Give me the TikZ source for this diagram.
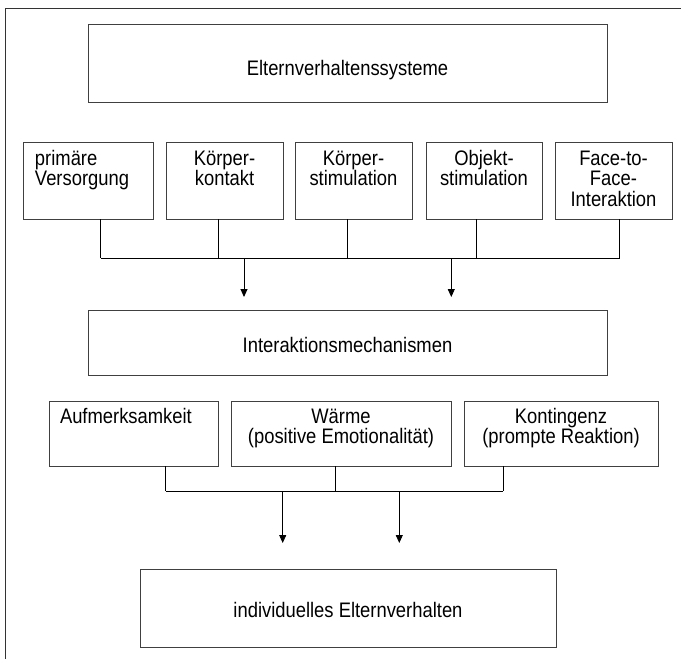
\documentclass[tikz,border=0pt]{standalone}
\usepackage{fontspec}
\setmainfont{Liberation Sans}[FakeStretch=0.876]
\usetikzlibrary{arrows.meta}
\newcommand{\bxt}[5]{\parbox[t][#2][t]{#1}{\fontsize{21pt}{20.7pt}\selectfont\lineskiplimit=-10pt #4\leavevmode\rule{0pt}{#3}#5}}
\tikzset{
  x=1pt, y=-1pt,
  bx/.style={draw=black!75, line width=0.9pt, inner sep=0pt, outer sep=0pt, anchor=north west},
  ln/.style={line width=0.9pt, black},
  arr/.style={ln, -{Triangle[width=7pt,length=8pt]}},
  frm/.style={line width=1.2pt, black!80}
}
\begin{document}
\begin{tikzpicture}
\useasboundingbox (0,0) rectangle (681,659);
\draw[frm] (5.5,659) -- (5.5,8.5) -- (681,8.5);

\node[bx] (A) at (88,24) {\bxt{519pt}{78pt}{51pt}{\centering}{Elternverhaltenssysteme}};

\node[bx] (B1) at (23,142) {\bxt{130pt}{77pt}{23pt}{\raggedright\leftskip=12pt\relax}{primäre\\Versorgung}};
\node[bx] (B2) at (166,142) {\bxt{117pt}{77pt}{23pt}{\centering}{Körper-\\kontakt}};
\node[bx] (B3) at (295,142) {\bxt{117pt}{77pt}{23pt}{\centering}{Körper-\\stimulation}};
\node[bx] (B4) at (426,142) {\bxt{116pt}{77pt}{23pt}{\centering}{Objekt-\\stimulation}};
\node[bx] (B5) at (555,142) {\bxt{117pt}{77pt}{23pt}{\centering}{Face-to-\\Face-\\Interaktion}};

\node[bx] (C) at (88,310) {\bxt{519pt}{65pt}{42pt}{\centering}{Interaktionsmechanismen}};

\node[bx] (D1) at (49,401) {\bxt{169pt}{65pt}{22pt}{\raggedright\leftskip=11pt\relax}{Aufmerksamkeit}};
\node[bx] (D2) at (231,401) {\bxt{220pt}{65pt}{22pt}{\centering}{Wärme\\(positive Emotionalität)}};
\node[bx] (D3) at (464,401) {\bxt{194pt}{65pt}{22pt}{\centering}{Kontingenz\\(prompte Reaktion)}};

\node[bx] (E) at (140,569) {\bxt{416pt}{78pt}{48pt}{\centering}{individuelles Elternverhalten}};

% first bus
\coordinate (j1) at (100.7,258);
\coordinate (j2) at (218,258);
\coordinate (j3) at (347.7,258);
\coordinate (j4) at (476.7,258);
\coordinate (j5) at (619.7,258);
\foreach \b/\j in {B1/j1,B2/j2,B3/j3,B4/j4,B5/j5}
  \draw[ln] (\b.south -| \j) -- (\j);
\draw[ln] (j1) -- (j5);
\coordinate (a1) at (244,258);
\coordinate (a2) at (451.3,258);
\draw[arr, shorten >=13pt] (a1) -- (a1 |- C.north);
\draw[arr, shorten >=13pt] (a2) -- (a2 |- C.north);

% second bus
\coordinate (k1) at (165.7,491);
\coordinate (k2) at (335,491);
\coordinate (k3) at (503.3,491);
\foreach \d/\k in {D1/k1,D2/k2,D3/k3}
  \draw[ln] (\d.south -| \k) -- (\k);
\draw[ln] (k1) -- (k3);
\coordinate (b1) at (282.7,491);
\coordinate (b2) at (399.3,491);
\draw[arr, shorten >=26pt] (b1) -- (b1 |- E.north);
\draw[arr, shorten >=26pt] (b2) -- (b2 |- E.north);
\end{tikzpicture}
\end{document}
